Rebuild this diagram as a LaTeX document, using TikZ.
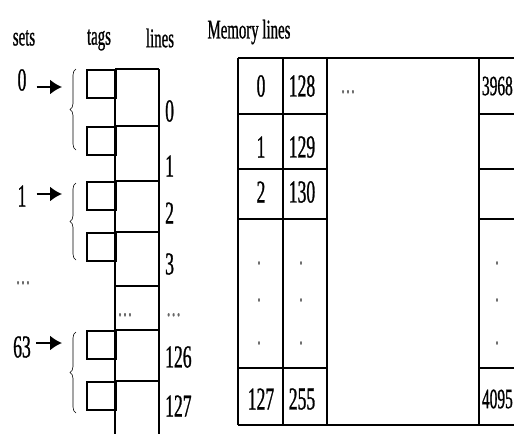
\documentclass[tikz,border=0pt]{standalone}
\usepackage{fontspec}
\setmainfont[FakeStretch=0.55,FakeBold=0.8]{Liberation Serif}
\usetikzlibrary{arrows.meta}
\usetikzlibrary{decorations.pathreplacing}

\begin{document}
\begin{tikzpicture}
  [x=1pt,y=-1pt,
   every node/.style={inner sep=0pt,font=\fontsize{27}{30}\selectfont},
   num/.style={font=\fontsize{32}{34}\selectfont},
   edgenum/.style={font=\fontsize{28}{30}\selectfont,anchor=east},
   grid/.style={line width=2pt},
   tagbox/.style={rectangle,draw,line width=2pt,minimum width=29pt,minimum height=28pt,anchor=north west},
   pointer/.style={line width=1.8pt,-{Latex[length=12pt,width=15pt]}},
   setbrace/.style={line width=0.6pt,decorate,decoration={brace,amplitude=6pt}},
   dot/.style={text=black!60}]
  \clip (0,0) rectangle (514,434);
  \fill[white] (0,0) rectangle (514,434);

  \node (sets) at (24,38) {sets};
  \node (tags) at (99,40) {tags};
  \node (lines) at (160,38) {lines};

  \draw[grid] (115,69) -- (115,434) (159,69) -- (159,434);
  \foreach \y in {69,126,181,232,286,330,381}
    \draw[grid] (115,\y) -- (159,\y);
  \foreach \y/\n in {69/0,126/1,181/2,232/3,330/126,381/127}
    \node (tag\n) [tagbox] at (86,\y) {};

  \foreach \y/\n in {111/0,166/1,213/2,264/3,357/126,406/127}
    \node (num\n) [num,anchor=west] at (165,\y) {\n};
  \node (numdots) [dot,anchor=base west] at (166,316) {\dots};
  \node (celldots) [dot,anchor=base] at (125,316) {\dots};

  \node (set0) [num] at (22,80) {0};
  \node (set1) [num] at (22,196) {1};
  \node (setdots) [dot,anchor=base] at (23,284) {\dots};
  \node (set63) [num] at (22,347) {63};

  \coordinate (ptr0) at (62,87);
  \coordinate (ptr1) at (62,194);
  \coordinate (ptr63) at (62,343);
  \draw[pointer] ([xshift=10pt]set0.east |- ptr0) -- (ptr0);
  \draw[pointer] ([xshift=10pt]set1.east |- ptr1) -- (ptr1);
  \draw[pointer] ([xshift=5pt]set63.east |- ptr63) -- (ptr63);

  \coordinate (br0t) at (76,69);
  \coordinate (br0b) at (76,150);
  \coordinate (br1t) at (76,183);
  \coordinate (br1b) at (76,260);
  \coordinate (br63t) at (76,332);
  \coordinate (br63b) at (76,413);
  \draw[setbrace] (br0b) -- (br0t);
  \draw[setbrace] (br1b) -- (br1t);
  \draw[setbrace] (br63b) -- (br63t);

  \node (memory) at (249,32) {Memory lines};

  \draw[grid] (238,58) -- (530,58) (238,425) -- (530,425);
  \foreach \x in {238,283,327,479}
    \draw[grid] (\x,58) -- (\x,425);
  \foreach \y in {114,169,219,368}
    \draw[grid] (238,\y) -- (327,\y) (479,\y) -- (530,\y);

  \foreach \y/\a/\b in {86/0/128,147/1/129,192/2/130,399/127/255} {
    \node (mem\a) [num] at (261,\y) {\a};
    \node (mem\b) [num] at (302,\y) {\b};
  }
  \node (memdots) [dot,anchor=base] at (348,93) {\dots};
  \node (mem3968) [edgenum] at (513,86) {3968};
  \node (mem4095) [edgenum] at (513,399) {4095};

  \foreach \y [count=\i] in {263,300,343} {
    \node (va\i) [dot] at (259,\y) {.};
    \node (vb\i) [dot] at (301,\y) {.};
    \node (vc\i) [dot] at (497,\y) {.};
  }
\end{tikzpicture}
\end{document}
